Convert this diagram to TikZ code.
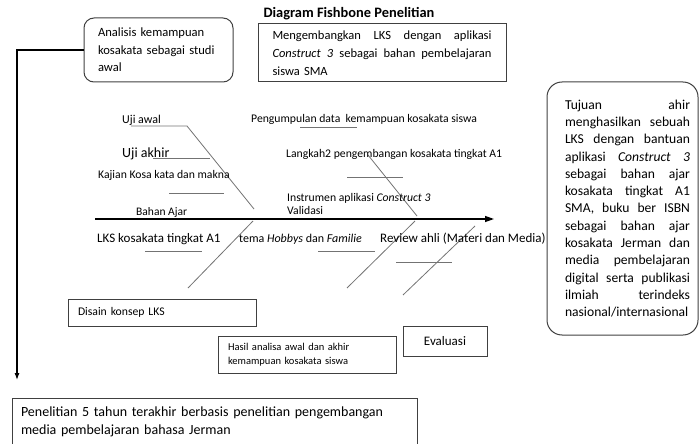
\documentclass[tikz,border=0pt]{standalone}
\usepackage{fontspec}
\setmainfont{Carlito}
\usetikzlibrary{arrows.meta}
\newcommand{\fsz}[2]{\fontsize{#1}{#2}\selectfont}
\newcommand{\jl}[2]{\makebox[#1][l]{#2}}
\begin{document}
\begin{tikzpicture}[x=1pt,y=-1pt,
 box/.style={draw=black!75,line width=1pt,inner sep=0pt},
 rbox/.style={box,rounded corners=10pt},
 bone/.style={draw=black!55,line width=0.8pt},
 uline/.style={draw=black!55,line width=0.9pt},
 spine/.style={draw=black,line width=1.3pt},
 conn/.style={draw=black,line width=1.1pt},
 lbl/.style={anchor=base west,inner sep=0pt},
]
\useasboundingbox (0,0) rectangle (699,444);

% title
\node[anchor=base,inner sep=0pt,font=\fsz{14.4}{17}\bfseries] (title) at (349,18) {Diagram Fishbone Penelitian};

% boxes
\node[rbox,minimum width=149pt,minimum height=64pt,text width=121pt,align=left,font=\fsz{12.6}{17.5}] (ana) at (158.5,50)
 {Analisis kemampuan\\kosakata sebagai studi\\awal};

\node[box,minimum width=248pt,minimum height=58pt,text width=219pt,align=left,font=\fsz{12.5}{18}] (goal) at (382,53)
 {\jl{219pt}{Mengembangkan\hfill LKS\hfill dengan\hfill aplikasi}\\
  \jl{219pt}{\textit{Construct\hfill 3}\hfill sebagai\hfill bahan\hfill pembelajaran}\\
  siswa SMA};

\node[box,rounded corners=15pt,minimum width=151pt,minimum height=253pt,text width=135pt,align=left,font=\fsz{13.6}{17.3}] (tujuan) at (622.5,208.5)
 {\hspace*{10pt}\jl{125pt}{Tujuan\hfill ahir}\\
  \hspace*{10pt}\jl{125pt}{menghasilkan\hfill sebuah}\\
  \hspace*{10pt}\jl{125pt}{LKS\hfill dengan\hfill bantuan}\\
  \hspace*{10pt}\jl{125pt}{aplikasi\hfill \textit{Construct\hfill 3}}\\
  \hspace*{10pt}\jl{125pt}{sebagai\hfill bahan\hfill ajar}\\
  \hspace*{10pt}\jl{125pt}{kosakata\hfill tingkat\hfill A1}\\
  \hspace*{10pt}\jl{125pt}{SMA,\hfill buku\hfill ber\hfill ISBN}\\
  \hspace*{10pt}\jl{125pt}{sebagai\hfill bahan\hfill ajar}\\
  \hspace*{10pt}\jl{125pt}{kosakata\hfill Jerman\hfill dan}\\
  \hspace*{10pt}\jl{125pt}{media\hfill pembelajaran}\\
  \hspace*{10pt}\jl{125pt}{digital\hfill serta\hfill publikasi}\\
  \hspace*{10pt}\jl{125pt}{ilmiah\hfill terindeks}\\
  \hspace*{10pt}nasional/internasional};

\node[box,minimum width=188pt,minimum height=27pt,text width=168pt,align=left,font=\fsz{11.7}{14}] (disain) at (162,312.5)
 {Disain konsep LKS};

\node[box,minimum width=178pt,minimum height=37pt,text width=158pt,align=left,font=\fsz{10.5}{14}] (hasil) at (307,354.5)
 {Hasil analisa awal dan akhir\\kemampuan kosakata siswa};

\node[box,minimum width=84pt,minimum height=30pt,font=\fsz{13}{15}] (eval) at (445,341) {Evaluasi};

\node[box,minimum width=405pt,minimum height=48pt,text width=387pt,align=left,font=\fsz{14}{18}] (prior) at (214.5,422)
 {Penelitian 5 tahun terakhir berbasis penelitian pengembangan\\media pembelajaran bahasa Jerman};

% connector from analysis to prior research
\coordinate (down) at (17,380);
\draw[conn,-{Latex[length=7pt,width=5pt]}] (ana.west) -| (down);

% spine
\coordinate (tail) at (95,219);
\coordinate (head) at (494,219);
\draw[spine,-{Triangle[length=9pt,width=6pt]}] (tail) -- (head);

% bones
\coordinate (b1a) at (131,126); \coordinate (b1b) at (187,126); \coordinate (b1c) at (254,209);
\draw[bone] (b1a) -- (b1b) -- (b1c);
\coordinate (u2a) at (153,158); \coordinate (u2b) at (210,158);
\draw[uline] (u2a) -- (u2b);
\coordinate (u3a) at (169,193); \coordinate (u3b) at (224,193);
\draw[uline] (u3a) -- (u3b);
\coordinate (b4a) at (253,221); \coordinate (b4b) at (188,288);
\draw[bone] (b4a) -- (b4b);
\coordinate (u5a) at (145,251); \coordinate (u5b) at (202,251);
\draw[uline] (u5a) -- (u5b);
\coordinate (u6a) at (300,127); \coordinate (u6b) at (357,127);
\draw[uline] (u6a) -- (u6b);
\coordinate (b7a) at (368,155); \coordinate (b7b) at (417,216);
\draw[bone] (b7a) -- (b7b);
\coordinate (u8a) at (347,177); \coordinate (u8b) at (403,177);
\draw[uline] (u8a) -- (u8b);
\coordinate (b9a) at (415,221); \coordinate (b9b) at (347,288);
\draw[bone] (b9a) -- (b9b);
\coordinate (b10a) at (475,226); \coordinate (b10b) at (403,295);
\draw[bone] (b10a) -- (b10b);
\coordinate (u11a) at (318,251); \coordinate (u11b) at (375,251);
\draw[uline] (u11a) -- (u11b);
\coordinate (u12a) at (396,262); \coordinate (u12b) at (452,262);
\draw[uline] (u12a) -- (u12b);

% labels
\node[lbl,font=\fsz{12}{14}] (l1) at (122,123) {Uji awal};
\node[lbl,font=\fsz{14}{16}] (l2) at (122,157) {Uji akhir};
\node[lbl,font=\fsz{11.7}{14}] (l3) at (98,178) {Kajian Kosa kata dan makna};
\node[lbl,font=\fsz{11.5}{14}] (l4) at (136,215) {Bahan Ajar};
\node[lbl,font=\fsz{13}{15}] (l5) at (97,242) {LKS kosakata tingkat A1};
\node[lbl,font=\fsz{12}{14}] (l6) at (239,242) {tema \textit{Hobbys} dan \textit{Familie}};
\node[lbl,font=\fsz{13}{15}] (l7) at (380,242) {Review ahli (Materi dan Media)};
\node[lbl,font=\fsz{11.7}{14}] (l8) at (251,122) {Pengumpulan data\ \ kemampuan kosakata siswa};
\node[lbl,font=\fsz{11.7}{14}] (l9) at (286,157) {Langkah2 pengembangan kosakata tingkat A1};
\node[lbl,font=\fsz{11.7}{14}] (l10) at (287,201) {Instrumen aplikasi \textit{Construct 3}};
\node[lbl,font=\fsz{11.7}{14}] (l11) at (287,214) {Validasi};
\end{tikzpicture}
\end{document}
